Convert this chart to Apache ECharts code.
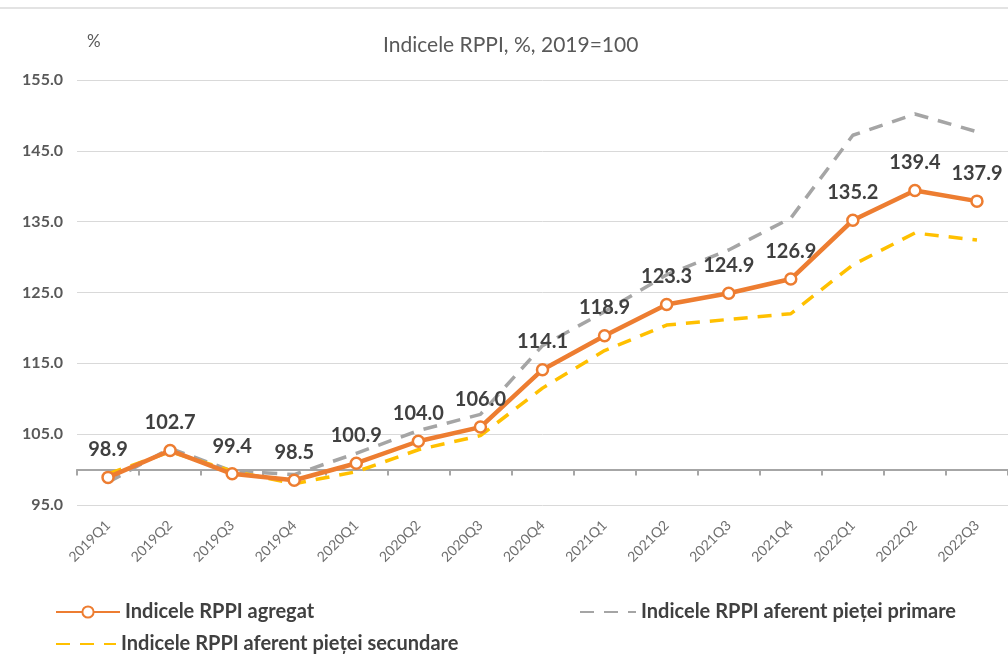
<!DOCTYPE html>
<html>
<head>
<meta charset="utf-8">
<script src="https://cdn.jsdelivr.net/npm/echarts@6/dist/echarts.min.js"></script>
<style>
  html, body { margin: 0; padding: 0; background: #fff; }
  #chart { width: 1008px; height: 655px; }
</style>
</head>
<body>
<div id="chart"></div>
<script>
var categories = ["2019Q1", "2019Q2", "2019Q3", "2019Q4", "2020Q1", "2020Q2", "2020Q3", "2020Q4",
  "2021Q1", "2021Q2", "2021Q3", "2021Q4", "2022Q1", "2022Q2", "2022Q3"];
var agregat = [98.9, 102.7, 99.4, 98.5, 100.9, 104.0, 106.0, 114.1, 118.9, 123.3, 124.9, 126.9, 135.2, 139.4, 137.9];
var primara = [98.2, 103.0, 99.8, 99.3, 102.3, 105.5, 107.8, 117.5, 122.3, 127.5, 131.0, 135.5, 147.2, 150.2, 147.7];
var secundara = [99.4, 102.5, 99.8, 98.0, 99.7, 102.8, 104.8, 111.5, 116.8, 120.4, 121.2, 122.0, 128.9, 133.4, 132.4];
var yMin = 95, yMax = 155, yStep = 10, crossAt = 100;

var names = ["Indicele RPPI agregat", "Indicele RPPI aferent pieței primare", "Indicele RPPI aferent pieței secundare"];

var gridTop = 80, gridBottom = 150;
var gridH = 655 - gridTop - gridBottom;
// the category line crosses the value axis at 100, not at the bottom
var crossOffset = -gridH * (crossAt - yMin) / (yMax - yMin);

var chart = echarts.init(document.getElementById("chart"));
var legendText = {
  fontFamily: "Lato",
  fontSize: 20,
  fontWeight: "bold",
  color: "#404040"
};
var option = {
  animation: false,
  textStyle: { fontFamily: "Lato" },
  title: {
    text: "Indicele RPPI, %, 2019=100",
    left: 378,
    top: 30,
    textStyle: { fontFamily: "Lato", fontSize: 21, fontWeight: "normal", color: "#595959" }
  },
  graphic: [
    { type: "line", shape: { x1: 0, y1: 8, x2: 1008, y2: 8 }, style: { stroke: "#e3e3e3", lineWidth: 2 } },
    { type: "text", left: 87, top: 33, style: { text: "%", font: "17px Lato", fill: "#595959" } }
  ],
  legend: [
    { data: [names[0]], left: 50, top: 597, itemWidth: 64, itemHeight: 14, itemGap: 6, textStyle: legendText },
    { data: [names[1]], left: 574, top: 597, itemWidth: 56, itemHeight: 14, textStyle: legendText,
      itemStyle: { opacity: 0 } },
    { data: [names[2]], left: 50, top: 629, itemWidth: 60, itemHeight: 14, textStyle: legendText,
      itemStyle: { opacity: 0 } }
  ],
  grid: { left: 77, right: 0, top: gridTop, bottom: gridBottom, containLabel: false },
  xAxis: [
    {
      type: "category",
      data: categories,
      boundaryGap: true,
      axisLine: { show: false },
      axisTick: { show: false },
      axisLabel: { rotate: 45, color: "#6f6f6f", fontSize: 14, margin: 18, interval: 0 }
    },
    {
      type: "category",
      data: categories,
      position: "bottom",
      offset: crossOffset,
      boundaryGap: true,
      axisLine: { show: true, lineStyle: { color: "#a6a6a6", width: 2 } },
      axisTick: { show: true, length: 6, lineStyle: { color: "#a6a6a6", width: 2 } },
      axisLabel: { show: false }
    }
  ],
  yAxis: {
    type: "value",
    min: yMin,
    max: yMax,
    interval: yStep,
    axisLine: { show: false },
    axisTick: { show: false },
    axisLabel: {
      formatter: function (v) { return v.toFixed(1); },
      color: "#595959",
      fontSize: 16,
      fontWeight: "bold",
      margin: 14
    },
    splitLine: { lineStyle: { color: "#d9d9d9", width: 1 } }
  },
  series: [
    {
      name: names[1],
      type: "line",
      data: primara,
      symbol: "none",
      z: 2,
      lineStyle: { color: "#a5a5a5", width: 3.5, type: [14, 10] },
      itemStyle: { color: "#a5a5a5" }
    },
    {
      name: names[2],
      type: "line",
      data: secundara,
      symbol: "none",
      z: 2,
      lineStyle: { color: "#ffc000", width: 3.5, type: [14, 10] },
      itemStyle: { color: "#ffc000" }
    },
    {
      name: names[0],
      type: "line",
      data: agregat,
      z: 3,
      symbol: "circle",
      symbolSize: 11,
      lineStyle: { color: "#ed7d31", width: 4.5 },
      itemStyle: { color: "#ffffff", borderColor: "#ed7d31", borderWidth: 2.5 },
      label: {
        show: true,
        position: "top",
        distance: 11,
        formatter: function (p) { return p.value.toFixed(1); },
        fontSize: 20,
        fontWeight: "bold",
        color: "#404040"
      }
    }
  ]
};
chart.setOption(option);
</script>
</body>
</html>
